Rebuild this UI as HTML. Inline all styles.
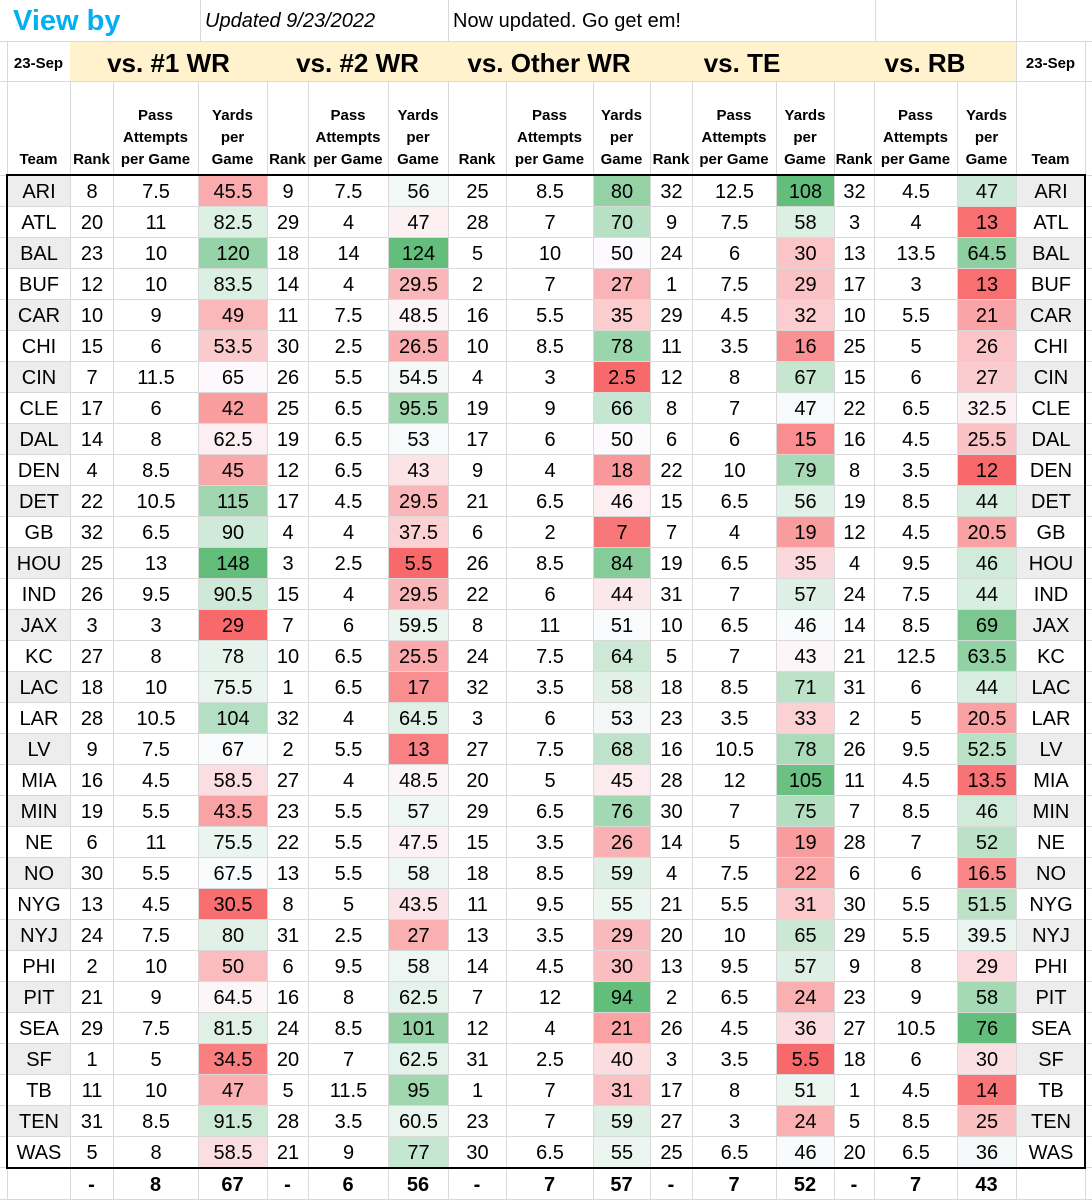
<!DOCTYPE html>
<html><head><meta charset="utf-8">
<style>
html,body{margin:0;padding:0;background:#fff;}
body{width:1092px;height:1199px;position:relative;overflow:hidden;font-family:"Liberation Sans",Arial,sans-serif;color:#000;}
.c{position:absolute;box-sizing:border-box;display:flex;align-items:center;justify-content:center;text-align:center;}
.h{font-weight:bold;font-size:15px;line-height:22px;align-items:flex-end;padding-bottom:4px;}
.d{font-size:20px;padding-top:3px;}
.gl{position:absolute;background:#D9D9D9;}
</style></head><body>
<div id="root"></div>
<script>
const X=[7,70,113,198,267,308,388,448,506,593,650,692,776,834,874,957,1016,1085];
const rows=`ARI 8 7.5 45.5 9 7.5 56 25 8.5 80 32 12.5 108 32 4.5 47
ATL 20 11 82.5 29 4 47 28 7 70 9 7.5 58 3 4 13
BAL 23 10 120 18 14 124 5 10 50 24 6 30 13 13.5 64.5
BUF 12 10 83.5 14 4 29.5 2 7 27 1 7.5 29 17 3 13
CAR 10 9 49 11 7.5 48.5 16 5.5 35 29 4.5 32 10 5.5 21
CHI 15 6 53.5 30 2.5 26.5 10 8.5 78 11 3.5 16 25 5 26
CIN 7 11.5 65 26 5.5 54.5 4 3 2.5 12 8 67 15 6 27
CLE 17 6 42 25 6.5 95.5 19 9 66 8 7 47 22 6.5 32.5
DAL 14 8 62.5 19 6.5 53 17 6 50 6 6 15 16 4.5 25.5
DEN 4 8.5 45 12 6.5 43 9 4 18 22 10 79 8 3.5 12
DET 22 10.5 115 17 4.5 29.5 21 6.5 46 15 6.5 56 19 8.5 44
GB 32 6.5 90 4 4 37.5 6 2 7 7 4 19 12 4.5 20.5
HOU 25 13 148 3 2.5 5.5 26 8.5 84 19 6.5 35 4 9.5 46
IND 26 9.5 90.5 15 4 29.5 22 6 44 31 7 57 24 7.5 44
JAX 3 3 29 7 6 59.5 8 11 51 10 6.5 46 14 8.5 69
KC 27 8 78 10 6.5 25.5 24 7.5 64 5 7 43 21 12.5 63.5
LAC 18 10 75.5 1 6.5 17 32 3.5 58 18 8.5 71 31 6 44
LAR 28 10.5 104 32 4 64.5 3 6 53 23 3.5 33 2 5 20.5
LV 9 7.5 67 2 5.5 13 27 7.5 68 16 10.5 78 26 9.5 52.5
MIA 16 4.5 58.5 27 4 48.5 20 5 45 28 12 105 11 4.5 13.5
MIN 19 5.5 43.5 23 5.5 57 29 6.5 76 30 7 75 7 8.5 46
NE 6 11 75.5 22 5.5 47.5 15 3.5 26 14 5 19 28 7 52
NO 30 5.5 67.5 13 5.5 58 18 8.5 59 4 7.5 22 6 6 16.5
NYG 13 4.5 30.5 8 5 43.5 11 9.5 55 21 5.5 31 30 5.5 51.5
NYJ 24 7.5 80 31 2.5 27 13 3.5 29 20 10 65 29 5.5 39.5
PHI 2 10 50 6 9.5 58 14 4.5 30 13 9.5 57 9 8 29
PIT 21 9 64.5 16 8 62.5 7 12 94 2 6.5 24 23 9 58
SEA 29 7.5 81.5 24 8.5 101 12 4 21 26 4.5 36 27 10.5 76
SF 1 5 34.5 20 7 62.5 31 2.5 40 3 3.5 5.5 18 6 30
TB 11 10 47 5 11.5 95 1 7 31 17 8 51 1 4.5 14
TEN 31 8.5 91.5 28 3.5 60.5 23 7 59 27 3 24 5 8.5 25
WAS 5 8 58.5 21 9 77 30 6.5 55 25 6.5 46 20 6.5 36`.split('\n').map(r=>r.split(' '));
let h='';
function cell(x0,x1,y0,y1,txt,cls,st){h+=`<div class="c ${cls||''}" style="left:${x0}px;top:${y0}px;width:${x1-x0}px;height:${y1-y0}px;${st||''}">${txt}</div>`;}
const TOP=175,RH=31;
for(let i=0;i<X.length;i++){h+=`<div class="gl" style="left:${X[i]}px;top:0;width:1px;height:1199px"></div>`;}
[41,81,1199].forEach(y=>h+=`<div class="gl" style="left:0;top:${y}px;width:1092px;height:1px"></div>`);
for(let r=0;r<=32;r++)h+=`<div class="gl" style="left:0;top:${TOP+r*RH}px;width:1092px;height:1px"></div>`;
h+=`<div style="position:absolute;left:0;top:0;width:1092px;height:41px;background:#fff"></div>`;
[200,448,875,1016].forEach(x=>h+=`<div class="gl" style="left:${x}px;top:0;width:1px;height:41px"></div>`);
h+=`<div style="position:absolute;left:13px;top:5px;font-size:29px;font-weight:bold;color:#00B0F0">View by</div>`;
h+=`<div style="position:absolute;left:205px;top:10px;font-size:20px;font-style:italic">Updated 9/23/2022</div>`;
h+=`<div style="position:absolute;left:453px;top:10px;font-size:20px">Now updated. Go get em!</div>`;
h+=`<div style="position:absolute;left:70px;top:42px;width:946px;height:39px;background:#FFF2CC"></div>`;
cell(7,70,44,83,'23-Sep','','font-weight:bold;font-size:15px');
cell(1016,1085,44,83,'23-Sep','','font-weight:bold;font-size:15px');
[['vs. #1 WR',70,267],['vs. #2 WR',267,448],['vs. Other WR',448,650],['vs. TE',650,834],['vs. RB',834,1016]].forEach(g=>cell(g[1],g[2],44,83,g[0],'','font-weight:bold;font-size:26px'));
h+=`<div style="position:absolute;left:0;top:82px;width:1092px;height:93px;background:#fff"></div>`;
for(let i=0;i<X.length;i++)h+=`<div class="gl" style="left:${X[i]}px;top:82px;width:1px;height:93px"></div>`;
cell(X[0],X[1],82,175,'Team','h');cell(X[16],X[17],82,175,'Team','h');
for(let g=0;g<5;g++){const b=1+g*3;cell(X[b],X[b+1],82,175,'Rank','h');cell(X[b+1],X[b+2],82,175,'Pass<br>Attempts<br>per Game','h');cell(X[b+2],X[b+3],82,175,'Yards<br>per<br>Game','h');}
function mix(a,b,t){return 'rgb('+a.map((v,i)=>Math.round(v+(b[i]-v)*t)).join(',')+')';}
const R=[248,105,107],W=[252,252,255],G=[99,190,123];
const cols={};
for(let g=0;g<5;g++){const ci=3+g*3;const vals=rows.map(r=>+r[ci]).sort((a,b)=>a-b);const mn=vals[0],mx=vals[vals.length-1];const md=(vals[15]+vals[16])/2;cols[ci]={mn,mx,md};}
rows.forEach((r,ri)=>{const y0=TOP+ri*RH+1,y1=TOP+(ri+1)*RH;
 for(let c=0;c<16;c++){let st='';
  if(c==0&&ri%2==0)st='background:#EDEDED;';
  if(cols[c]){const {mn,mx,md}=cols[c];const v=+r[c];st='background:'+(v<md?mix(R,W,(v-mn)/(md-mn)):mix(W,G,(v-md)/(mx-md)))+';';}
  cell(X[c]+1,X[c+1],y0,y1,r[c],'d',st);}
 const st=ri%2==0?'background:#EDEDED;':'';cell(X[16]+1,X[17],y0,y1,r[0],'d',st);
});
h+=`<div style="position:absolute;left:6px;top:174px;width:1080px;height:995px;border:2px solid #000;box-sizing:border-box"></div>`;
const ft=['-','8','67','-','6','56','-','7','57','-','7','52','-','7','43'];
ft.forEach((t,i)=>cell(X[i+1],X[i+2],1172,1199,t,'','font-weight:bold;font-size:20px'));
document.getElementById('root').innerHTML=h;
</script>
</body></html>
